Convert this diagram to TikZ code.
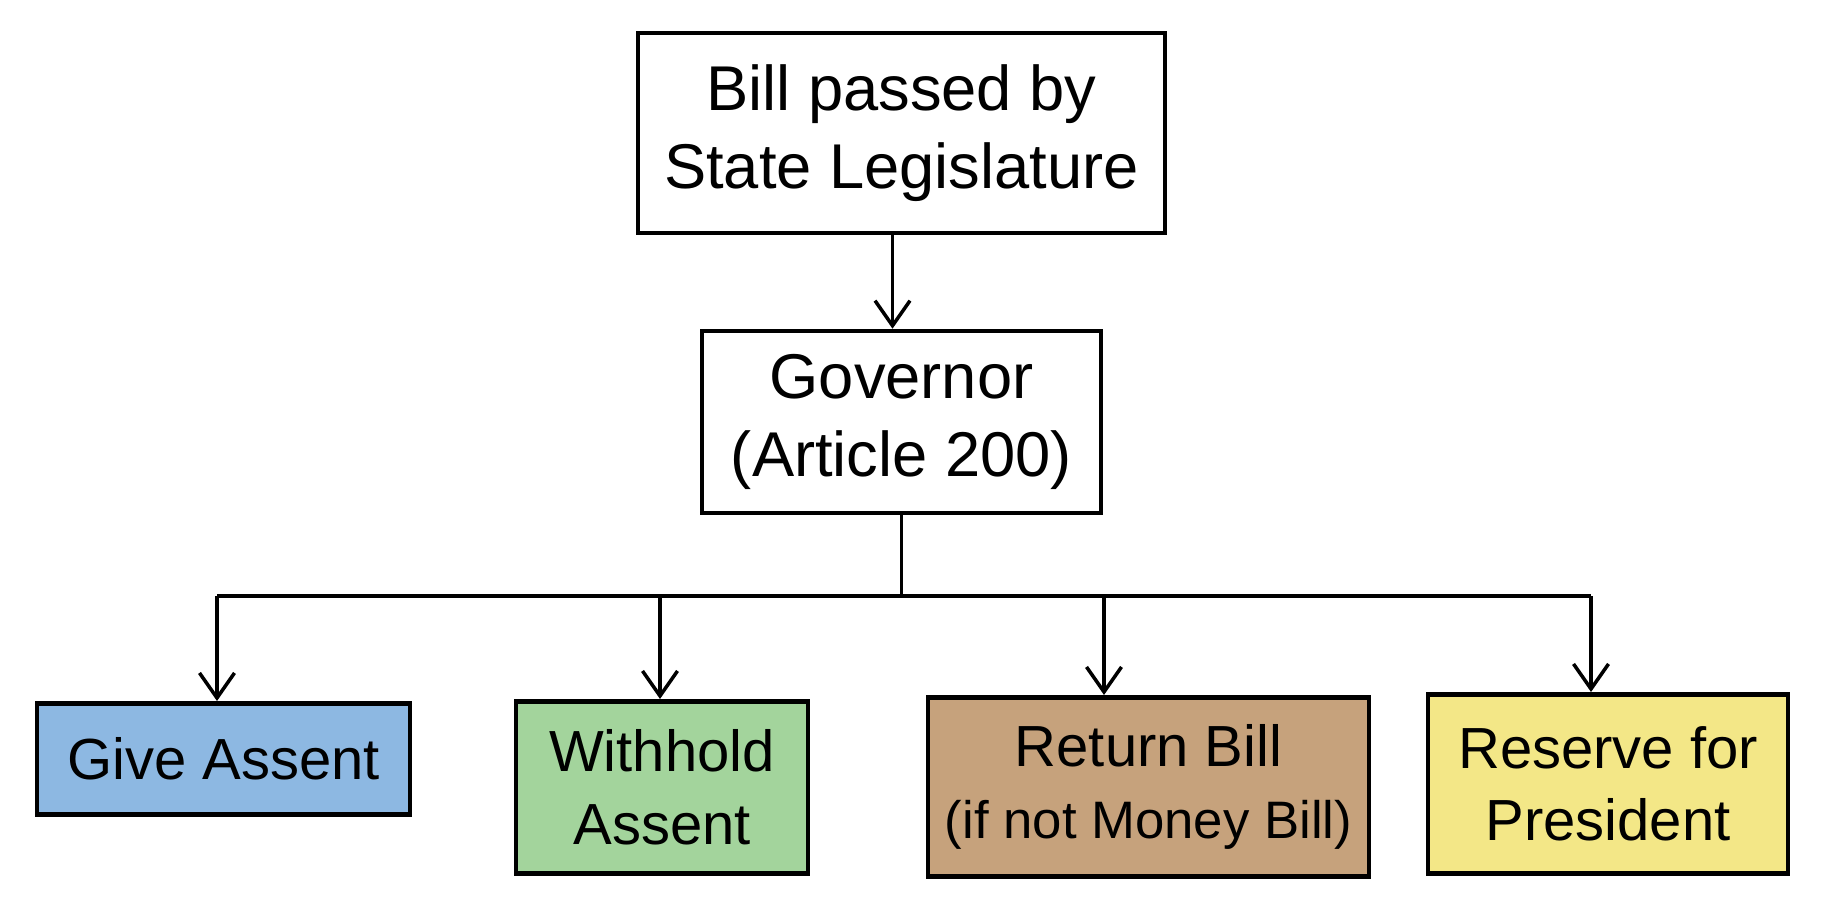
\documentclass[tikz,border=0pt]{standalone}
\usepackage{fontspec}
\setmainfont{Liberation Sans}
\usetikzlibrary{arrows.meta}
\definecolor{assentblue}{HTML}{8DB8E2}
\definecolor{holdgreen}{HTML}{A3D49C}
\definecolor{returntan}{HTML}{C6A27C}
\definecolor{reserveyellow}{HTML}{F3E787}
\begin{document}
\begin{tikzpicture}[line width=2pt]
    \tikzstyle{marrs}=[-{Straight Barb[length=5mm,width=7mm]}]
    \tikzstyle{bnode}=[draw, line width=2.6pt, align=center, inner sep=0mm, font=\fontsize{33}{41}\selectfont]
    \tikzstyle{tnode}=[bnode, font=\fontsize{36}{44}\selectfont]
    \tikzstyle{cnode}=[bnode, anchor=north, minimum height=3.5cm]
    \def\ybus{-11.92}

    \useasboundingbox (0,0) rectangle (36.44,-18.48);

    % top of the flow
    \node[tnode, minimum width=10.54cm, minimum height=4cm] (bill) at (18.03,-2.66) {Bill passed by\\State Legislature};
    \node[tnode, minimum width=7.98cm, minimum height=3.64cm] (gov) at (18.03,-8.44) {Governor\\(Article 200)};

    % the four options
    \node[cnode, fill=assentblue, minimum width=7.46cm, minimum height=2.22cm] (give) at (4.47,-14.02) {Give Assent};
    \node[cnode, fill=holdgreen, minimum width=5.84cm, minimum height=3.44cm] (hold) at (13.24,-13.98) {Withhold\\Assent};
    \node[cnode, fill=returntan, minimum width=8.82cm, minimum height=3.58cm] (ret) at (22.97,-13.9) {Return Bill\\{\fontsize{30}{36}\selectfont(if not Money Bill)}};
    \node[cnode, fill=reserveyellow, minimum width=7.2cm, minimum height=3.58cm] (res) at (32.16,-13.84) {Reserve for\\President};

    \coordinate (btop) at (17.85,-4.66);
    \coordinate (bgive) at (4.34,\ybus);
    \coordinate (bhold) at (13.2,\ybus);
    \coordinate (bret) at (22.08,\ybus);
    \coordinate (bres) at (31.82,\ybus);

    \draw[marrs] (btop) -- (btop |- gov.north);
    \draw (gov.south) -- (gov.south |- bgive);
    \draw (bgive) -- (bres);
    \foreach \n in {give,hold,ret,res}
        \draw[marrs] (b\n) -- (b\n |- \n.north);
\end{tikzpicture}
\end{document}
